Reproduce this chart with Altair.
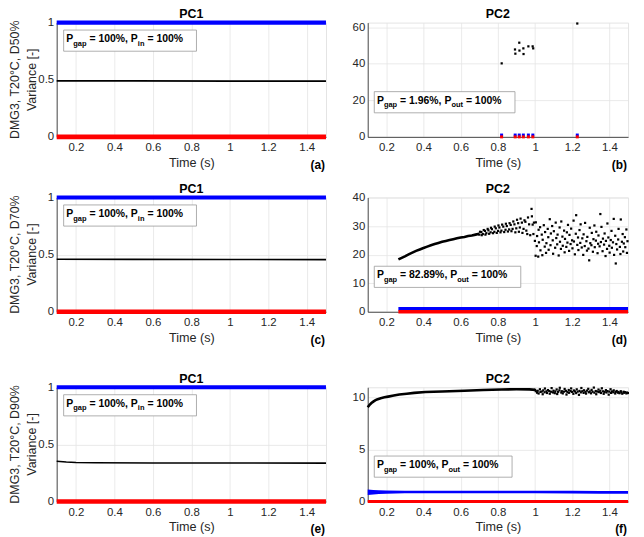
import altair as alt
import pandas as pd

FONT = "Liberation Sans"
DARK = "#262626"
GRID = "#e4e4e4"
BLUE = "#0000ff"
RED = "#ff0000"

X_TICKS = [0.2, 0.4, 0.6, 0.8, 1.0, 1.2, 1.4]
X_DOMAIN = [0.1, 1.5]
ROW_LABELS = ["DMG3, T20°C, D50%", "DMG3, T20°C, D70%", "DMG3, T20°C, D90%"]
Y_LABEL = "Variance [-]"

# ---------------- PC1 (left column) ----------------
pc1_t = [0.1, 1.5]
pc1_blue_v = [1.0, 1.0]
pc1_red_v = [0.0, 0.0]
a_black_t = [0.1, 0.5, 1.0, 1.5]
a_black_v = [0.49, 0.49, 0.488, 0.488]
c_black_t = [0.1, 0.5, 1.0, 1.5]
c_black_v = [0.46, 0.458, 0.457, 0.456]
e_black_t = [0.1, 0.15, 0.2, 0.3, 0.6, 1.0, 1.5]
e_black_v = [0.352, 0.346, 0.342, 0.34, 0.338, 0.337, 0.336]

# ---------------- PC2 (b) ----------------
b_black_t = [0.8205, 0.892, 0.894, 0.915, 0.916, 0.937, 0.938, 0.964, 0.987, 0.990, 1.227]
b_black_v = [40.2, 47.8, 45.5, 51.5, 47.2, 48.4, 45.3, 49.5, 49.5, 48.4, 62.0]
b_mark_t = [0.82, 0.893, 0.915, 0.937, 0.964, 0.988, 1.227]
b_blue_v = [1.0, 1.0, 1.0, 1.0, 1.0, 1.0, 1.0]
b_red_v = [0.0, 0.0, 0.0, 0.0, 0.0, 0.0, 0.0]

# ---------------- PC2 (d) ----------------
d_curve_t = [0.265, 0.28, 0.30, 0.32, 0.34, 0.36, 0.38, 0.40, 0.42, 0.44, 0.46, 0.48,
             0.50, 0.52, 0.54, 0.56, 0.58, 0.60, 0.62, 0.64, 0.66, 0.68, 0.70]
d_curve_v = [18.3, 18.8, 19.4, 20.1, 20.7, 21.3, 21.8, 22.3, 22.8, 23.3, 23.7, 24.1,
             24.5, 24.8, 25.1, 25.4, 25.7, 26.0, 26.2, 26.5, 26.7, 27.0, 27.3]
d_band_t = [0.700, 0.704, 0.711, 0.713, 0.719, 0.724, 0.731, 0.733, 0.738, 0.745, 0.749, 0.753,
            0.761, 0.763, 0.768, 0.774, 0.781, 0.783, 0.789, 0.794, 0.801, 0.803, 0.808, 0.814,
            0.819, 0.823, 0.829, 0.834, 0.841, 0.843, 0.848, 0.854, 0.861, 0.863, 0.869, 0.873,
            0.879, 0.883, 0.889, 0.894, 0.899, 0.903, 0.909, 0.913, 0.918, 0.922, 0.929, 0.932,
            0.938, 0.943, 0.948, 0.953, 0.958, 0.962, 0.968, 0.974]
d_band_v = [27.0, 28.0, 27.9, 26.8, 27.2, 28.6, 28.3, 27.0, 27.5, 29.0, 28.5, 27.3,
            27.8, 29.4, 28.9, 27.5, 28.0, 29.8, 29.2, 27.6, 28.3, 30.2, 29.5, 27.8,
            28.4, 30.5, 29.8, 27.9, 28.7, 30.8, 30.0, 28.1, 28.8, 31.0, 30.4, 28.2,
            29.0, 31.6, 30.6, 27.8, 29.2, 32.2, 31.0, 28.0, 29.5, 32.6, 31.2, 27.6,
            29.0, 32.0, 31.5, 28.4, 27.2, 33.0, 30.6, 26.8]
d_scatter_t = [0.981, 0.983, 0.987, 0.991, 0.994, 0.999,
               1.003, 1.004, 1.009, 1.011, 1.017, 1.019,
               1.021, 1.027, 1.029, 1.036, 1.039,
               1.041, 1.047, 1.052, 1.054, 1.059,
               1.061, 1.068, 1.071, 1.073, 1.079,
               1.083, 1.085, 1.092, 1.095, 1.097,
               1.101, 1.108, 1.111, 1.114, 1.119,
               1.121, 1.127, 1.132, 1.134, 1.139,
               1.141, 1.147, 1.149, 1.156, 1.159,
               1.161, 1.168, 1.171, 1.174, 1.177,
               1.183, 1.185, 1.191, 1.194, 1.199,
               1.201, 1.207, 1.209, 1.214, 1.219,
               1.221, 1.227, 1.231, 1.233, 1.239,
               1.243, 1.245, 1.251, 1.254, 1.259,
               1.261, 1.267, 1.269, 1.276, 1.279,
               1.281, 1.287, 1.291, 1.294, 1.297,
               1.303, 1.305, 1.311, 1.314, 1.319,
               1.321, 1.327, 1.329, 1.336, 1.339,
               1.341, 1.347, 1.351, 1.354, 1.357,
               1.363, 1.365, 1.371, 1.374, 1.379,
               1.381, 1.387, 1.389, 1.394, 1.399,
               1.401, 1.407, 1.411, 1.413, 1.419,
               1.423, 1.425, 1.431, 1.434, 1.437,
               1.441, 1.447, 1.449, 1.456, 1.459,
               1.461, 1.467, 1.471, 1.474, 1.477,
               1.483, 1.485, 1.491, 1.494, 1.497]
d_scatter_v = [36.0, 33.4, 30.5, 27.2, 31.2, 24.8,
               19.6, 31.3, 23.0, 26.5, 19.3, 28.7,
               24.3, 29.6, 21.5, 27.0, 19.8,
               25.2, 30.3, 22.8, 27.9, 20.6,
               24.0, 29.0, 26.1, 21.7, 32.4,
               23.3, 27.4, 30.0, 25.0, 20.3,
               28.2, 22.4, 31.2, 25.8, 23.6,
               27.0, 19.7, 29.5, 24.5, 22.0,
               31.6, 26.3, 23.1, 28.4, 20.8,
               25.5, 22.7, 27.8, 24.2, 30.4,
               21.3, 26.9, 23.7, 29.1, 25.0,
               22.2, 31.9, 24.6, 20.1, 27.3,
               33.8, 23.4, 26.0, 21.6, 28.6,
               24.1, 30.6, 22.5, 25.7, 19.9,
               27.1, 23.0, 31.1, 24.7, 21.4,
               26.2, 22.1, 18.0, 29.4, 24.0,
               23.3, 27.6, 21.0, 25.4, 30.2,
               22.6, 24.9, 28.0, 20.5, 23.8,
               26.7, 22.9, 34.2, 24.4, 29.7,
               21.2, 25.6, 23.5, 27.4, 19.5,
               24.8, 22.0, 30.9, 26.0, 23.1,
               20.7, 25.1, 28.3, 22.4, 24.3,
               32.5, 19.9, 26.6, 16.9, 23.7,
               21.8, 25.3, 29.0, 22.7, 20.2,
               32.3, 24.5, 27.2, 21.1, 23.9,
               26.1, 22.6, 28.8, 20.6, 24.7]
d_line_t = [0.265, 1.5]
d_blue_v = [1.0, 1.0]
d_red_v = [0.0, 0.0]

# ---------------- PC2 (f) ----------------
f_curve_t = [0.10, 0.11, 0.12, 0.13, 0.14, 0.15, 0.17, 0.19, 0.21, 0.24, 0.27, 0.31,
             0.35, 0.41, 0.50, 0.62, 0.72, 0.82, 0.90, 0.97, 1.0]
f_curve_v = [9.08, 9.30, 9.48, 9.62, 9.74, 9.83, 9.95, 10.03, 10.10, 10.20, 10.30, 10.38,
             10.46, 10.54, 10.60, 10.67, 10.73, 10.79, 10.81, 10.80, 10.75]
f_scatter_t = [1.000, 1.004, 1.011, 1.014, 1.019, 1.026, 1.029, 1.036, 1.041, 1.044,
               1.051, 1.053, 1.061, 1.064, 1.069, 1.076, 1.079, 1.086, 1.089, 1.096,
               1.099, 1.106, 1.109, 1.116, 1.119, 1.124, 1.131, 1.133, 1.141, 1.144,
               1.149, 1.156, 1.159, 1.166, 1.169, 1.174, 1.181, 1.183, 1.191, 1.194,
               1.199, 1.206, 1.209, 1.214, 1.221, 1.224, 1.229, 1.236, 1.239, 1.246,
               1.249, 1.254, 1.261, 1.263, 1.271, 1.274, 1.279, 1.286, 1.289, 1.294,
               1.301, 1.304, 1.309, 1.316, 1.319, 1.326, 1.329, 1.334, 1.341, 1.343,
               1.351, 1.354, 1.359, 1.366, 1.369, 1.374, 1.381, 1.384, 1.389, 1.396,
               1.399, 1.406, 1.409, 1.414, 1.421, 1.423, 1.431, 1.434, 1.439, 1.446,
               1.449, 1.454, 1.461, 1.464, 1.469, 1.476, 1.479, 1.484, 1.491, 1.494,
               1.499]
f_scatter_v = [10.75, 10.62, 10.48, 10.66, 10.40, 10.81, 10.55, 10.59, 10.33, 10.70,
               10.52, 10.88, 10.61, 10.45, 10.73, 10.64, 10.38, 10.57, 10.92, 10.50,
               10.67, 10.43, 10.60, 10.79, 10.35, 10.56, 10.71, 10.95, 10.49, 10.62,
               10.41, 10.58, 10.84, 10.66, 10.30, 10.53, 10.74, 10.47, 10.63, 10.89,
               10.55, 10.37, 10.69, 10.60, 10.44, 10.80, 10.58, 10.27, 10.65, 10.51,
               10.93, 10.62, 10.46, 10.71, 10.56, 10.39, 10.68, 10.85, 10.52, 10.60,
               10.42, 10.75, 10.57, 10.97, 10.48, 10.64, 10.33, 10.59, 10.78, 10.54,
               10.66, 10.45, 10.90, 10.61, 10.37, 10.55, 10.72, 10.50, 10.63, 10.29,
               10.58, 10.81, 10.46, 10.60, 10.52, 10.70, 10.40, 10.56, 10.64, 10.48,
               10.55, 10.43, 10.62, 10.50, 10.38, 10.57, 10.47, 10.53, 10.41, 10.49,
               10.45]
f_blue_t = [0.10, 0.13, 0.16, 0.20, 0.30, 0.50, 0.80, 1.00, 1.20, 1.35, 1.50]
f_blue_lo = [0.62, 0.68, 0.73, 0.76, 0.79, 0.80, 0.80, 0.79, 0.77, 0.76, 0.75]
f_blue_hi = [1.15, 1.12, 1.09, 1.06, 1.05, 1.05, 1.05, 1.04, 1.03, 1.02, 1.02]
f_red_t = [0.1, 1.5]
f_red_v = [0.0, 0.0]

# ---------------- helpers ----------------
LW, RW, H = 271, 262, 115

CW = {"P": 667, "g": 611, "a": 556, "p": 611, " ": 278, "=": 584, "0": 556, "1": 556,
      "2": 556, "6": 556, "8": 556, "9": 556, "%": 889, ",": 278, ".": 278, "i": 278,
      "n": 611, "o": 611, "u": 611, "t": 333}


def tw(s, size):
    return sum(CW.get(c, 556) for c in s) / 1000.0 * size


def xenc():
    return alt.X("t:Q", scale=alt.Scale(domain=X_DOMAIN, nice=False, zero=False),
                 axis=alt.Axis(values=X_TICKS, format="~f", title="Time (s)"))


def yenc(domain, ticks):
    return alt.Y("v:Q", scale=alt.Scale(domain=domain, nice=False, zero=False),
                 axis=alt.Axis(values=ticks, format="~f", title=None))


def line(t, v, color, width, Y):
    return alt.Chart(pd.DataFrame({"t": t, "v": v})).mark_line(
        color=color, strokeWidth=width).encode(x=xenc(), y=Y)


def pts(t, v, color, size, Y):
    return alt.Chart(pd.DataFrame({"t": t, "v": v})).mark_square(
        color=color, size=size, opacity=1).encode(x=xenc(), y=Y)


ONE = alt.Data(values=[{}])


def legend(x0, base, val1, sub2, val2):
    F, f = 10.5, 7.5
    segs = [("P", F, 0), ("gap", f, 3.4), (" = " + val1 + ", P", F, 0),
            (sub2, f, 3.4), (" = " + val2, F, 0)]
    texts = []
    x = x0
    for s, size, dy in segs:
        lead = len(s) - len(s.lstrip(" "))
        xs = x + lead * 0.278 * size
        texts.append(alt.Chart(ONE).mark_text(
            align="left", baseline="alphabetic", font=FONT, fontSize=size,
            fontWeight="bold", color="black").encode(
            x=alt.value(xs), y=alt.value(base + dy), text=alt.value(s.strip(" "))))
        x += tw(s, size)
    rect = alt.Chart(ONE).mark_rect(fill="white", stroke="#9a9a9a", strokeWidth=0.8).encode(
        x=alt.value(x0 - 2.7), x2=alt.value(x + 13.5),
        y=alt.value(base - 12.3), y2=alt.value(base + 9.0))
    return [rect] + texts


def letter(txt, w):
    return alt.Chart(ONE).mark_text(align="right", baseline="middle", font=FONT,
                                    fontSize=12, fontWeight="bold", color="black").encode(
        x=alt.value(w - 1), y=alt.value(H + 28), text=alt.value(txt))


def ptitle(txt, w):
    return alt.Chart(ONE).mark_text(align="center", baseline="middle", font=FONT,
                                    fontSize=12.5, fontWeight="bold", color="black").encode(
        x=alt.value(w / 2), y=alt.value(-8.5), text=alt.value(txt))


def ytitle(row):
    out = []
    for txt, xpos in ((ROW_LABELS[row], -42), (Y_LABEL, -25)):
        out.append(alt.Chart(ONE).mark_text(
            angle=270, align="center", baseline="middle", font=FONT, fontSize=12.5,
            color=DARK).encode(x=alt.value(xpos), y=alt.value(H / 2), text=alt.value(txt)))
    return out


def pc1_panel(row, black_t, black_v, let):
    Y = yenc([0, 1], [0, 0.5, 1])
    layers = [line(pc1_t, pc1_blue_v, BLUE, 4.2, Y),
              line(pc1_t, pc1_red_v, RED, 4.6, Y),
              line(black_t, black_v, "black", 1.6, Y)]
    layers += legend(9.7, 19.8, "100%", "in", "100%")
    layers += ytitle(row)
    layers.append(letter(let, LW))
    layers.append(ptitle("PC1", LW))
    return alt.layer(*layers).properties(width=LW, height=H)


# (b)
Yb = yenc([0, 62.5], [0, 20, 40, 60])
panel_b = alt.layer(
    pts(b_mark_t, b_blue_v, BLUE, 9, Yb),
    pts(b_mark_t, b_red_v, RED, 9, Yb),
    pts(b_black_t, b_black_v, "black", 5, Yb),
    *legend(9.3, 81.8, "1.96%", "out", "100%"),
    letter("(b)", RW),
    ptitle("PC2", RW),
).properties(width=RW, height=H)

# (d)
Yd = yenc([0, 40], [0, 10, 20, 30, 40])
panel_d = alt.layer(
    line(d_line_t, d_blue_v, BLUE, 3.6, Yd),
    line(d_line_t, d_red_v, RED, 3.4, Yd),
    line(d_curve_t, d_curve_v, "black", 2.6, Yd),
    pts(d_band_t, d_band_v, "black", 5, Yd),
    pts(d_scatter_t, d_scatter_v, "black", 5, Yd),
    *legend(9.3, 81.5, "82.89%", "out", "100%"),
    letter("(d)", RW),
    ptitle("PC2", RW),
).properties(width=RW, height=H)

# (f)
Yf = yenc([0, 11], [0, 5, 10])
f_area = alt.Chart(pd.DataFrame({"t": f_blue_t, "v": f_blue_lo, "v2": f_blue_hi})).mark_area(
    color=BLUE, opacity=1).encode(x=xenc(), y=Yf, y2=alt.Y2("v2:Q"))
panel_f = alt.layer(
    f_area,
    line(f_red_t, f_red_v, RED, 3.0, Yf),
    line(f_curve_t, f_curve_v, "black", 2.6, Yf),
    pts(f_scatter_t, f_scatter_v, "black", 5, Yf),
    *legend(9.3, 81.5, "100%", "out", "100%"),
    letter("(f)", RW),
    ptitle("PC2", RW),
).properties(width=RW, height=H)

SP = 15
row1 = alt.hconcat(pc1_panel(0, a_black_t, a_black_v, "(a)"), panel_b, spacing=SP)
row2 = alt.hconcat(pc1_panel(1, c_black_t, c_black_v, "(c)"), panel_d, spacing=SP)
row3 = alt.hconcat(pc1_panel(2, e_black_t, e_black_v, "(e)"), panel_f, spacing=SP)

chart = alt.vconcat(alt.vconcat(row1, row2, spacing=11), row3, spacing=26).properties(
    padding={"top": -2, "left": 0, "right": 0, "bottom": 0}
).configure(font=FONT).configure_axis(
    domainColor=DARK, domainWidth=0.8, gridColor=GRID, gridWidth=0.8,
    labelColor=DARK, labelFont=FONT, labelFontSize=11.5,
    titleColor=DARK, titleFont=FONT, titleFontSize=12.7, titleFontWeight="normal",
    ticks=False,
).configure_axisX(labelPadding=5, titlePadding=3).configure_axisY(
    labelPadding=3
).configure_view(stroke=GRID, strokeWidth=1)

chart.save("out.html", embed_options={"renderer": "svg", "actions": False})
